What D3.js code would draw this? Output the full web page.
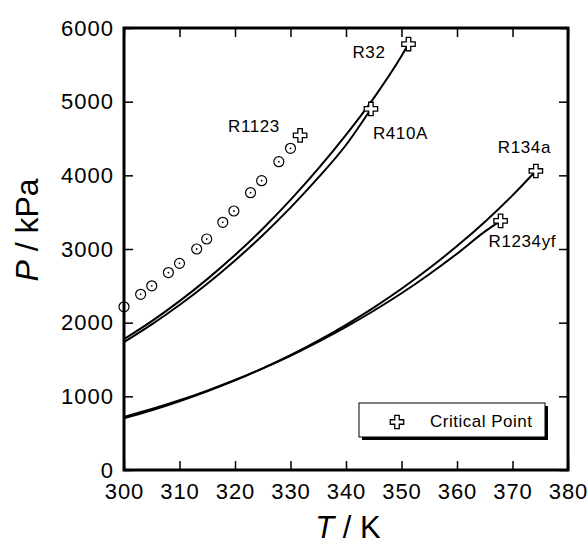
<!DOCTYPE html>
<html>
<head>
<meta charset="utf-8">
<script src="https://cdn.jsdelivr.net/npm/d3@7"></script>
<style>
  body { margin: 0; background: #fff; }
  svg { display: block; }
  text { font-family: "Liberation Sans", Arial, Helvetica, sans-serif; fill: #000; }
</style>
</head>
<body>
<svg id="chart"></svg>
<script>
// saturation pressure curves, kPa vs K
const r32T = [300, 305, 310, 315, 320, 325, 330, 335, 340, 345, 350, 351.26];
const r32P = [1776, 2021, 2292, 2591, 2918, 3276, 3666, 4090, 4549, 5049, 5619, 5782];

const r410aT = [300, 305, 310, 315, 320, 325, 330, 335, 340, 344.49];
const r410aP = [1735, 1976, 2239, 2528, 2844, 3187, 3561, 3968, 4412, 4901];

const r134aT = [300, 305, 310, 315, 320, 325, 330, 335, 340, 345, 350, 355, 360, 365, 370, 374.21];
const r134aP = [703, 811, 933, 1068, 1216, 1380, 1559, 1756, 1971, 2205, 2460, 2738, 3040, 3368, 3728, 4059];

const r1234yfT = [300, 305, 310, 315, 320, 325, 330, 335, 340, 345, 350, 355, 360, 365, 367.85];
const r1234yfP = [720, 827, 946, 1078, 1222, 1380, 1551, 1739, 1942, 2162, 2399, 2658, 2936, 3236, 3382];

// R1123 measured points
const r1123T = [300.0, 303.0, 305.0, 308.0, 310.0, 313.1, 314.9, 317.8, 319.8, 322.8, 324.8, 327.9, 330.0];
const r1123P = [2215, 2385, 2500, 2680, 2805, 3000, 3136, 3362, 3516, 3764, 3927, 4185, 4367];

// critical points
const critNames = ["R32", "R410A", "R1123", "R134a", "R1234yf"];
const critT = [351.26, 344.49, 331.73, 374.21, 367.85];
const critP = [5782, 4901, 4542, 4059, 3382];

const xTicks = [300, 310, 320, 330, 340, 350, 360, 370, 380];
const yTicks = [0, 1000, 2000, 3000, 4000, 5000, 6000];

const width = 588, height = 546;
const svg = d3.select("#chart").attr("width", width).attr("height", height);

const x = d3.scaleLinear().domain([300, 380]).range([124, 568]);
const y = d3.scaleLinear().domain([0, 6000]).range([470, 28]);

// axes, ticks pointing inward
function styleAxis(g, fs) {
    g.select(".domain").remove();
    g.attr("font-family", null).attr("font-size", null);
    g.selectAll(".tick line").attr("stroke", "#000").attr("stroke-width", 1.5);
    g.selectAll(".tick text").attr("font-size", fs).attr("letter-spacing", 1).attr("fill", "#000");
}

svg.append("g")
    .attr("transform", `translate(0,${y(0)})`)
    .call(d3.axisBottom(x).tickValues(xTicks).tickFormat(d3.format("d"))
        .tickSizeInner(-9).tickSizeOuter(0).tickPadding(13))
    .call(g => styleAxis(g, 22));

svg.append("g")
    .attr("transform", `translate(${x(300)},0)`)
    .call(d3.axisLeft(y).tickValues(yTicks).tickFormat(d3.format("d"))
        .tickSizeInner(-9).tickSizeOuter(0).tickPadding(10))
    .call(g => styleAxis(g, 22));

svg.append("g")
    .attr("transform", `translate(0,${y(6000)})`)
    .call(d3.axisTop(x).tickValues(xTicks).tickSizeInner(-9).tickSizeOuter(0).tickFormat(""))
    .call(g => styleAxis(g, 22));

svg.append("g")
    .attr("transform", `translate(${x(380)},0)`)
    .call(d3.axisRight(y).tickValues(yTicks).tickSizeInner(-9).tickSizeOuter(0).tickFormat(""))
    .call(g => styleAxis(g, 22));

// curves
const line = d3.line()
    .x(d => x(d[0]))
    .y(d => y(d[1]))
    .curve(d3.curveMonotoneX);

const curves = [
    d3.zip(r32T, r32P),
    d3.zip(r410aT, r410aP),
    d3.zip(r134aT, r134aP),
    d3.zip(r1234yfT, r1234yfP)
];

svg.selectAll(".curve")
    .data(curves)
    .enter()
    .append("path")
    .attr("class", "curve")
    .attr("d", line)
    .attr("fill", "none")
    .attr("stroke", "#000")
    .attr("stroke-width", 2);

// R1123 circles with dot
const r1123 = d3.zip(r1123T, r1123P);
const pts = svg.selectAll(".pt")
    .data(r1123)
    .enter()
    .append("g")
    .attr("class", "pt")
    .attr("transform", d => `translate(${x(d[0])},${y(d[1])})`);
pts.append("circle").attr("r", 5).attr("fill", "#fff").attr("stroke", "#000").attr("stroke-width", 1.2);
pts.append("circle").attr("r", 0.9).attr("fill", "#000");

// critical point crosses
const cross = d3.symbol().type(d3.symbolCross).size(100);
const crit = d3.zip(critNames, critT, critP);

svg.selectAll(".crit")
    .data(crit)
    .enter()
    .append("path")
    .attr("class", "crit")
    .attr("transform", d => `translate(${x(d[1])},${y(d[2])})`)
    .attr("d", cross)
    .attr("fill", "#fff")
    .attr("stroke", "#000")
    .attr("stroke-width", 1.3);

// label offsets from the crosses (px)
const labelOffset = {
    "R32": [-56, 14],
    "R410A": [2, 30],
    "R1123": [-72, -3],
    "R134a": [-38, -18],
    "R1234yf": [-12, 26]
};

svg.selectAll(".lbl")
    .data(crit)
    .enter()
    .append("text")
    .attr("class", "lbl")
    .attr("x", d => x(d[1]) + labelOffset[d[0]][0])
    .attr("y", d => y(d[2]) + labelOffset[d[0]][1])
    .attr("font-size", 17)
    .attr("letter-spacing", 0.6)
    .text(d => d[0]);

// frame
svg.append("rect")
    .attr("x", x(300))
    .attr("y", y(6000))
    .attr("width", x(380) - x(300))
    .attr("height", y(0) - y(6000))
    .attr("fill", "none")
    .attr("stroke", "#000")
    .attr("stroke-width", 3);

// legend
const legend = svg.append("g").attr("transform", "translate(359,403)");
legend.append("rect").attr("x", 3).attr("y", 3).attr("width", 186).attr("height", 34).attr("fill", "#000");
legend.append("rect").attr("width", 186).attr("height", 34).attr("fill", "#fff").attr("stroke", "#000").attr("stroke-width", 1);
legend.append("path")
    .attr("transform", "translate(38,19)")
    .attr("d", cross)
    .attr("fill", "#fff")
    .attr("stroke", "#000")
    .attr("stroke-width", 1.3);
legend.append("text")
    .attr("x", 71)
    .attr("y", 24)
    .attr("font-size", 17)
    .attr("letter-spacing", 0.5)
    .text("Critical Point");

// axis titles
const xt = svg.append("text")
    .attr("x", 348)
    .attr("y", 538)
    .attr("text-anchor", "middle")
    .attr("font-size", 31);
xt.append("tspan").attr("font-style", "italic").text("T");
xt.append("tspan").text(" / K");

const yt = svg.append("text")
    .attr("transform", "translate(38,230) rotate(-90)")
    .attr("text-anchor", "middle")
    .attr("font-size", 32);
yt.append("tspan").attr("font-style", "italic").text("P");
yt.append("tspan").text(" / kPa");
</script>
</body>
</html>
